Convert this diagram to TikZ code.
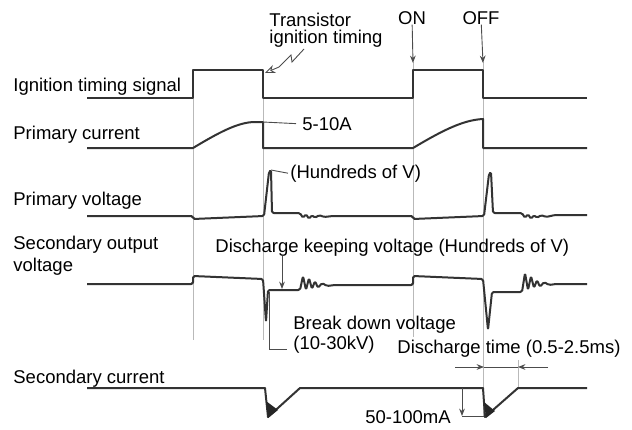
\documentclass[tikz,border=0pt]{standalone}
\usepackage{fontspec}
\setmainfont{Liberation Sans}
\usetikzlibrary{arrows.meta, positioning, calc}

\begin{document}
\begin{tikzpicture}[x=0.5pt, y=-0.5pt,
    wave/.style={line width=1pt, black!80, line join=round},
    guide/.style={gray!55, line width=0.4pt},
    leader/.style={black!70, line width=0.45pt},
    lbl/.style={anchor=base west, inner sep=0pt, font=\fontsize{9.25}{10}\selectfont},
    tip/.style={-{Stealth[length=1.3mm, width=1mm]}}
  ]
  \useasboundingbox (0,0) rectangle (632,429);

  \draw[guide] (193,70) -- (193,340);
  \draw[guide] (263,70) -- (263,340);
  \draw[guide] (413,62) -- (413,337);
  \draw[guide] (483,62) -- (483,417);
  \draw[guide] (518,360) -- (518,388);

  \node[lbl] (sig) at (13,91) {Ignition timing signal};
  \node[lbl] (pcur) at (13,139) {Primary current};
  \node[lbl] (pvolt) at (13,205) {Primary voltage};
  \node[lbl, anchor=north west, align=left, font=\fontsize{9.25}{11}\selectfont] (svolt) at (13,236) {Secondary output\\voltage};
  \node[lbl] (scur) at (13,383) {Secondary current};

  \node[lbl, anchor=north west, align=left, font=\fontsize{9.25}{8.5}\selectfont] (trans) at (269,13) {Transistor\\ignition timing};
  \node[lbl, anchor=base] (on) at (412,24) {ON};
  \node[lbl, anchor=base] (off) at (481,24) {OFF};
  \node[lbl] (amp) at (302,130) {5-10A};
  \node[lbl] (hund) at (290,178) {(Hundreds of V)};
  \node[lbl] (keep) at (215,252) {Discharge keeping voltage (Hundreds of V)};
  \node[lbl, anchor=north west, align=left, font=\fontsize{9.25}{8.5}\selectfont] (brk) at (293,316) {Break down voltage\\(10-30kV)};
  \node[lbl] (dtime) at (397,353) {Discharge time (0.5-2.5ms)};
  \node[lbl] (ma) at (365,423) {50-100mA};

  \coordinate (on-pt) at (413,63);
  \coordinate (off-pt) at (483,63);
  \coordinate (ti-start) at (304,49);
  \coordinate (ti-pt) at (265,73);
  \coordinate (amp-pt) at (263,122);
  \coordinate (hund-pt) at (271,170);
  \coordinate (keep-pt) at (282,289);
  \coordinate (brk-pt) at (269,292);
  \coordinate (ma-top) at (462,388);
  \coordinate (ma-bot) at (462,416);
  \coordinate (ma-tip) at (484,416);
  \coordinate (dt-l) at (455,367);
  \coordinate (dt-a) at (484,367);
  \coordinate (dt-b) at (518,367);
  \coordinate (dt-r) at (548,367);

  \draw[wave] (87,98) -- (193,98) -- (193,70) -- (263,70) -- (263,98) -- (413,98)
    -- (413,70) -- (483,70) -- (483,98) -- (587,98);

  \draw[wave] (87,148) -- (193,148) .. controls (218,133) and (238,122) .. (255,122)
    -- (263,122) -- (263,148) -- (413,148) .. controls (440,132) and (462,120) .. (483,119)
    -- (483,148) -- (587,148);

  \draw[wave, rounded corners=0.8pt] (87,216) -- (193,216) -- (193,219) -- (264,216) -- (269,172) -- (271,170)
    -- (272,213) -- (300,213)
    -- (303,218) -- (306,214) -- (309,219) -- (312,215) -- (315,218) -- (319,215)
    -- (324,217) -- (333,216) -- (413,216) -- (413,219) -- (484,216) -- (489,174)
    -- (491,172) -- (493,213) -- (522,213)
    -- (525,218) -- (528,214) -- (531,219) -- (534,215) -- (537,218) -- (541,215)
    -- (546,217) -- (555,215) -- (587,215);

  \draw[wave, rounded corners=0.8pt] (87,284) -- (193,284) -- (193,276) -- (263,279) -- (266,322) -- (268,290)
    -- (300,290) -- (303,276) -- (306,290) -- (309,278) -- (312,289) -- (315,281)
    -- (318,288) -- (322,283) -- (327,286) -- (335,285) -- (413,285) -- (413,276)
    -- (483,279) -- (488,330) -- (492,292) -- (522,292) -- (525,273) -- (528,290)
    -- (531,276) -- (534,288) -- (537,280) -- (540,287) -- (544,282) -- (549,285)
    -- (556,284) -- (587,284);

  \draw[wave] (87,388) -- (265,388) -- (268,417) -- (300,388) -- (483,388)
    -- (485,417) -- (518,388) -- (587,388);
  \fill[black!85] (266,401) -- (268,418) -- (278,410) -- cycle;
  \fill[black!85] (484,402) -- (486,418) -- (495,411) -- cycle;

  \draw[leader, tip] (on) -- (on-pt);
  \draw[leader, tip] (off) -- (off-pt);
  \draw[leader, -{Stealth[open, length=1.8mm, width=1.5mm]}] (ti-start) -- ++(-12,13)
    -- ++(-1,-7) -- ++(-12,12) -- (ti-pt);
  \draw[leader] (amp-pt) -- ([xshift=-3pt]amp.west);
  \draw[leader] (hund-pt) -- ([xshift=-1pt]hund.west);
  \draw[leader, tip] (keep.south -| keep-pt) -- (keep-pt);
  \draw[leader] (brk-pt) |- ([xshift=-3pt]brk.base west);
  \draw[leader, tip] (ma-top) -- (ma-bot);
  \draw[leader] (ma-bot) -- (ma-tip);
  \draw[leader, tip] (dt-l) -- (dt-a);
  \draw[leader] (dt-a) -- (dt-b);
  \draw[leader, tip] (dt-r) -- (dt-b);
\end{tikzpicture}
\end{document}
